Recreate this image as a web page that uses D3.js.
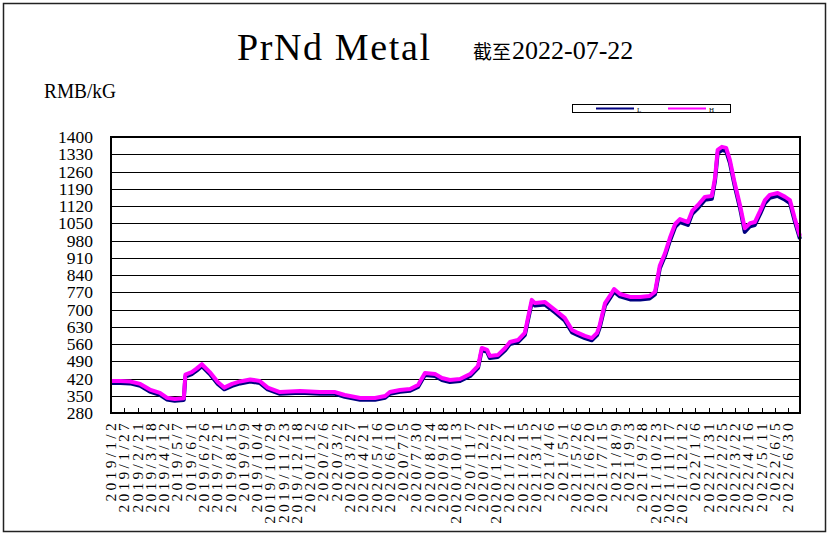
<!DOCTYPE html>
<html><head><meta charset="utf-8">
<script src="https://cdn.jsdelivr.net/npm/d3@7"></script>
<style>body{margin:0;background:#fff}svg{display:block}</style>
</head><body>
<script>
const dates = ["2019-01-02","2019-01-20","2019-02-07","2019-02-26","2019-03-16","2019-04-04","2019-04-17","2019-05-02","2019-05-19","2019-05-22","2019-06-03","2019-06-12","2019-06-22","2019-07-07","2019-07-22","2019-08-03","2019-08-18","2019-09-02","2019-09-21","2019-10-09","2019-10-24","2019-11-16","2019-12-24","2020-01-30","2020-02-28","2020-03-17","2020-04-15","2020-05-13","2020-06-01","2020-06-10","2020-06-29","2020-07-18","2020-08-02","2020-08-15","2020-09-03","2020-09-16","2020-10-01","2020-10-20","2020-11-08","2020-11-23","2020-11-30","2020-12-10","2020-12-15","2020-12-30","2021-01-13","2021-01-22","2021-02-06","2021-02-19","2021-03-04","2021-03-10","2021-03-29","2021-04-17","2021-05-05","2021-05-19","2021-05-30","2021-06-12","2021-06-25","2021-07-05","2021-07-10","2021-07-20","2021-07-29","2021-08-06","2021-08-17","2021-09-05","2021-09-24","2021-10-12","2021-10-22","2021-10-31","2021-11-10","2021-11-19","2021-11-29","2021-12-08","2021-12-23","2021-12-31","2022-01-11","2022-01-24","2022-02-06","2022-02-12","2022-02-17","2022-02-25","2022-03-05","2022-03-12","2022-03-21","2022-03-31","2022-04-09","2022-04-19","2022-04-28","2022-05-08","2022-05-17","2022-05-26","2022-06-10","2022-06-24","2022-07-03","2022-07-12","2022-07-22"];
const hValues = [410,410,408,398,375,362,342,337,340,436,446,460,478,446,406,383,398,408,416,410,383,365,369,365,365,353,341,341,349,365,373,377,394,442,438,422,414,418,438,471,544,536,511,515,544,568,576,605,739,726,730,698,666,617,605,593,584,605,637,726,755,783,763,751,751,755,771,877,929,990,1047,1067,1055,1100,1124,1157,1161,1234,1348,1360,1356,1307,1214,1124,1030,1050,1055,1100,1144,1165,1173,1157,1144,1071,998];
const lValues = [402,402,400,390,367,354,335,330,333,428,438,452,470,438,398,376,390,400,408,402,376,358,362,358,358,346,334,334,342,358,366,370,386,434,430,414,406,410,430,463,535,528,503,507,535,560,568,596,728,716,720,688,656,607,596,584,575,596,627,716,745,772,753,741,741,745,761,866,918,978,1035,1055,1043,1088,1112,1145,1149,1222,1335,1347,1343,1295,1202,1112,1015,1038,1043,1088,1132,1153,1161,1145,1132,1059,986];
const yTicks = [280,350,420,490,560,630,700,770,840,910,980,1050,1120,1190,1260,1330,1400];
const xTickLabels = ["2019/1/2","2019/1/27","2019/2/21","2019/3/18","2019/4/12","2019/5/7","2019/6/1","2019/6/26","2019/7/21","2019/8/15","2019/9/9","2019/10/4","2019/10/29","2019/11/23","2019/12/18","2020/1/12","2020/2/6","2020/3/2","2020/3/27","2020/4/21","2020/5/16","2020/6/10","2020/7/5","2020/7/30","2020/8/24","2020/9/18","2020/10/13","2020/11/7","2020/12/2","2020/12/27","2021/1/21","2021/2/15","2021/3/12","2021/4/6","2021/5/1","2021/5/26","2021/6/20","2021/7/15","2021/8/9","2021/9/3","2021/9/28","2021/10/23","2021/11/17","2021/12/12","2022/1/6","2022/1/31","2022/2/25","2022/3/22","2022/4/16","2022/5/11","2022/6/5","2022/6/30"];
const seriesNames = ["L","H"];
const seriesColors = ["#000080","#FF00FF"];

const W = 834, H = 537;
const m = {left:111, right:800, top:137, bottom:413};
const svg = d3.select("body").append("svg").attr("width",W).attr("height",H);
const parseD = d3.timeParse("%Y-%m-%d");
const parseL = d3.timeParse("%Y/%m/%d");
const x = d3.scaleTime().domain([parseD(dates[0]), parseD(dates[dates.length-1])]).range([m.left, m.right]);
const y = d3.scaleLinear().domain([280,1400]).range([m.bottom, m.top]);
const serif = "Liberation Serif, serif";

// outer frame
svg.append("rect").attr("x",3.5).attr("y",3.5).attr("width",822).attr("height",528)
  .attr("fill","none").attr("stroke","#222").attr("stroke-width",1.5);

// title
svg.append("text").attr("x",237).attr("y",60).attr("font-family",serif)
  .attr("font-size",38).attr("textLength",193).attr("lengthAdjust","spacing").text("PrNd Metal");
const sub = svg.append("text").attr("x",473).attr("y",59).attr("font-family",serif).attr("font-size",26);
sub.append("tspan").attr("font-family","Noto Sans CJK SC").attr("font-size",19).text("截至");
sub.append("tspan").attr("dx",1).text("2022-07-22");

svg.append("text").attr("x",44).attr("y",98).attr("font-family",serif)
  .attr("font-size",21).attr("textLength",72).attr("lengthAdjust","spacingAndGlyphs").text("RMB/kG");

// legend
const lg = svg.append("g");
lg.append("rect").attr("x",572.5).attr("y",104.5).attr("width",158).attr("height",8).attr("fill","#fff").attr("stroke","#000").attr("stroke-width",1);
seriesNames.forEach((n,i)=>{
  const x0 = 596 + i*72;
  lg.append("line").attr("x1",x0).attr("x2",x0+38).attr("y1",108.5).attr("y2",108.5).attr("stroke",seriesColors[i]).attr("stroke-width",2);
  lg.append("text").attr("x",x0+41).attr("y",111.5).attr("font-family",serif).attr("font-size",7).text(n);
});

// gridlines
svg.append("g").selectAll("line").data(yTicks).join("line")
  .attr("x1",m.left).attr("x2",m.right).attr("y1",d=>Math.round(y(d))+0.5).attr("y2",d=>Math.round(y(d))+0.5)
  .attr("stroke","#000").attr("stroke-width",1);

// y labels
svg.append("g").selectAll("text").data(yTicks).join("text")
  .attr("x",93).attr("y",d=>y(d)).attr("dy","0.35em").attr("text-anchor","end")
  .attr("font-family",serif).attr("font-size",17.5).text(d=>d);

// x ticks
const xt = xTickLabels.map(s=>parseL(s));
svg.append("g").selectAll("line").data(xt).join("line")
  .attr("x1",d=>Math.round(x(d))+0.5).attr("x2",d=>Math.round(x(d))+0.5).attr("y1",m.bottom).attr("y2",m.bottom-5)
  .attr("stroke","#000").attr("stroke-width",1);
svg.append("g").selectAll("text").data(xTickLabels).join("text")
  .attr("transform",(d,i)=>`translate(${x(xt[i])+5},${m.bottom+7}) rotate(-90)`)
  .attr("text-anchor","end").attr("font-family",serif).attr("font-size",15.5)
  .attr("letter-spacing",3.3).text(d=>d);

// lines
const pts = [lValues, hValues].map(vals => vals.map((v,i)=>[parseD(dates[i]), v]));
const line = d3.line().x(d=>x(d[0])).y(d=>y(d[1]));
pts.forEach((p,i)=>{
  svg.append("path").datum(p).attr("d",line).attr("fill","none").attr("stroke",seriesColors[i])
    .attr("stroke-width",4).attr("stroke-linejoin","round");
});

// plot border
svg.append("rect").attr("x",m.left).attr("y",m.top).attr("width",m.right-m.left).attr("height",m.bottom-m.top)
  .attr("fill","none").attr("stroke","#000").attr("stroke-width",2);
</script>
</body></html>
